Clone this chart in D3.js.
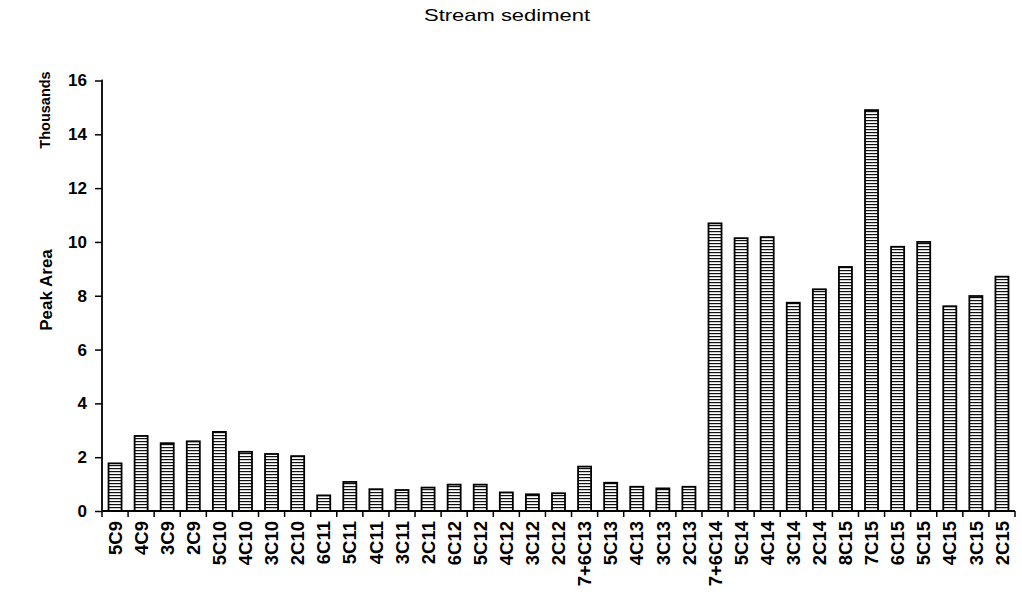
<!DOCTYPE html>
<html>
<head>
<meta charset="utf-8">
<script src="https://cdn.jsdelivr.net/npm/d3@7"></script>
<style>
  html, body { margin: 0; padding: 0; background: #fff; }
  svg { display: block; }
  text { font-family: "Liberation Sans", Arial, sans-serif; fill: #000; }
</style>
</head>
<body>
<svg id="chart" width="1022" height="601"></svg>
<script>
const categories = ["5C9","4C9","3C9","2C9","5C10","4C10","3C10","2C10","6C11","5C11","4C11","3C11","2C11","6C12","5C12","4C12","3C12","2C12","7+6C13","5C13","4C13","3C13","2C13","7+6C14","5C14","4C14","3C14","2C14","8C15","7C15","6C15","5C15","4C15","3C15","2C15"];
const peakAreaThousands = [1.77,2.79,2.52,2.59,2.94,2.20,2.12,2.04,0.58,1.08,0.81,0.78,0.87,0.98,0.98,0.69,0.62,0.66,1.65,1.05,0.90,0.84,0.90,10.69,10.14,10.18,7.74,8.24,9.07,14.90,9.82,10.00,7.61,7.99,8.71];
const yTicks = [0,2,4,6,8,10,12,14,16];
const titleText = "Stream sediment";
const yAxisTitle = "Peak Area";
const yUnitText = "Thousands";

const svg = d3.select("#chart");
const mLeft = 102, mRight = 1015, mTop = 80.5, mBottom = 511;

const x = d3.scaleBand().domain(categories).range([mLeft, mRight]).paddingInner(0.5).paddingOuter(0.25);
const y = d3.scaleLinear().domain([0, 16]).range([mBottom, mTop]);

// stripe pattern
const defs = svg.append("defs");
const pat = defs.append("pattern").attr("id", "stripes").attr("patternUnits", "userSpaceOnUse")
  .attr("width", 8).attr("height", 3);
pat.append("rect").attr("width", 8).attr("height", 3).attr("fill", "#fff");
pat.append("rect").attr("x", 0).attr("y", 0).attr("width", 8).attr("height", 1.2).attr("fill", "#111");

// title
svg.append("text").attr("x", 507).attr("y", 21).attr("text-anchor", "middle")
  .style("font-size", "16.5px").attr("textLength", 166).attr("lengthAdjust", "spacingAndGlyphs").text(titleText);

// bars
svg.append("g").selectAll("rect").data(categories).join("rect")
  .attr("x", d => x(d))
  .attr("y", (d, i) => y(peakAreaThousands[i]))
  .attr("width", x.bandwidth())
  .attr("height", (d, i) => y(0) - y(peakAreaThousands[i]))
  .attr("fill", "url(#stripes)")
  .attr("stroke", "#000").attr("stroke-width", 1.8);

// y axis
const yAxis = svg.append("g").attr("transform", `translate(${mLeft},0)`)
  .call(d3.axisLeft(y).tickValues(yTicks).tickSize(7).tickPadding(8).tickFormat(d3.format("d")));
yAxis.select(".domain").attr("stroke", "#000").attr("stroke-width", 1.8).attr("d", `M-0.5,${mTop}H0V${mBottom}`);
yAxis.selectAll(".tick line").attr("stroke", "#000").attr("stroke-width", 1.5);
yAxis.selectAll(".tick text").style("font-size", "17px").style("font-weight", "bold")
  .style("font-family", "'Liberation Sans', Arial, sans-serif");

// x axis
const xAxis = svg.append("g").attr("transform", `translate(0,${mBottom})`)
  .call(d3.axisBottom(x).tickSize(0).tickPadding(9));
xAxis.select(".domain").attr("stroke", "#000").attr("stroke-width", 1.8).attr("d", `M${mLeft},0H${mRight}`);
xAxis.selectAll(".tick text")
  .attr("transform", "rotate(-90)")
  .attr("text-anchor", "end")
  .attr("x", -10).attr("y", 0).attr("dy", "0.36em")
  .style("font-size", "18.5px").style("font-weight", "bold")
  .style("font-family", "'Liberation Sans', Arial, sans-serif");
// category boundary ticks
const step = x.step();
const boundaries = categories.map(d => x(d) + x.bandwidth() / 2 - step / 2).concat([mRight]);
xAxis.append("g").selectAll("line").data(boundaries).join("line")
  .attr("x1", d => d).attr("x2", d => d).attr("y1", 0).attr("y2", 6)
  .attr("stroke", "#000").attr("stroke-width", 1.5);

// axis titles
svg.append("text").attr("transform", "translate(52,290) rotate(-90)").attr("text-anchor", "middle")
  .style("font-size", "17px").style("font-weight", "bold").text(yAxisTitle);
svg.append("text").attr("transform", "translate(50,110) rotate(-90)").attr("text-anchor", "middle")
  .style("font-size", "14.5px").style("font-weight", "bold").text(yUnitText);
</script>
</body>
</html>
